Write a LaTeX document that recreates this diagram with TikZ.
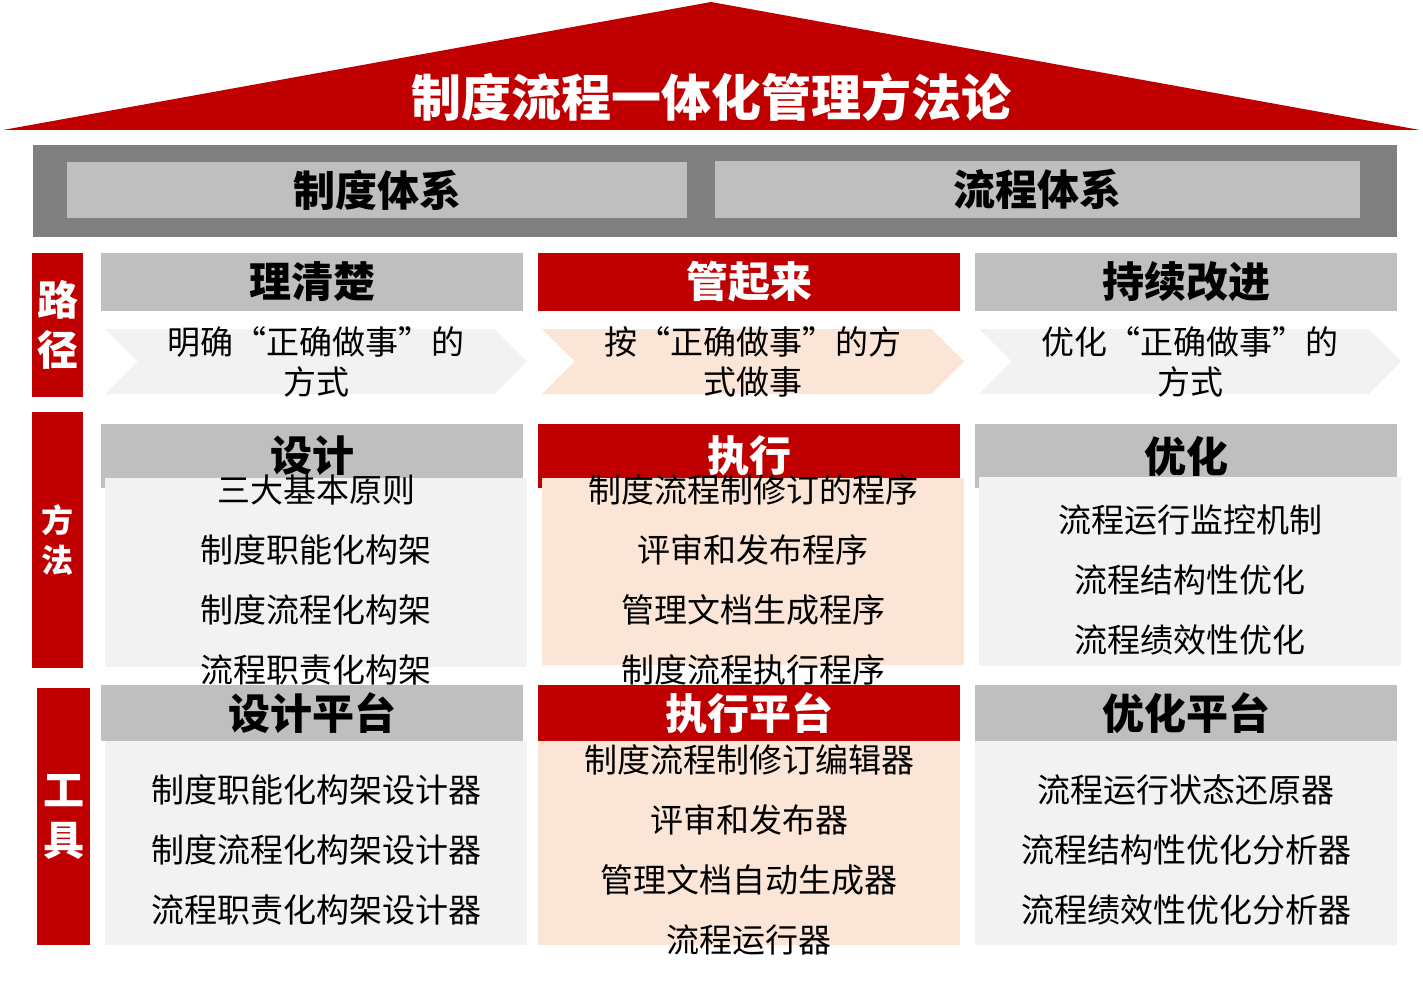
\documentclass[tikz,border=0pt]{standalone}
\usepackage{fontspec}
\setmainfont{Noto Sans CJK SC}
\usetikzlibrary{positioning,shapes.symbols}
\definecolor{roofred}{HTML}{C00000}
\definecolor{bandgray}{HTML}{808080}
\definecolor{capgray}{HTML}{BFBFBF}
\definecolor{panelgray}{HTML}{F2F2F2}
\definecolor{panelpeach}{HTML}{FBE5D6}

\begin{document}
\begin{tikzpicture}[x=1pt,y=-1pt,
  every node/.style={inner sep=0pt,outer sep=0pt},
  headbox/.style={minimum width=422,fill=capgray,font=\fontsize{42}{46}\selectfont\bfseries},
  redhead/.style={headbox,fill=roofred,text=white},
  panel/.style={minimum width=422,fill=panelgray},
  chev/.style={signal,signal to=east,signal from=west,signal pointer angle=90,
    minimum width=422,minimum height=65,fill=panelgray},
  side/.style={fill=roofred,text=white,minimum width=51,align=center,
    font=\fontsize{41}{50}\selectfont\bfseries},
  item/.style={font=\fontsize{33}{40}\selectfont,align=center}
]
  \useasboundingbox (0,0) rectangle (1423,981);

  % roof
  \fill[roofred] (3,130) -- (711,2) -- (1420,130) -- cycle;
  \node[text=white,font=\fontsize{50}{54}\selectfont\bfseries] (title) at (711,97) {制度流程一体化管理方法论};

  % two systems
  \node[fill=bandgray,minimum width=1364,minimum height=92] (band) at (715,191) {};
  \node[headbox,minimum width=620,minimum height=56] (rules) at (377,190) {制度体系};
  \node[headbox,minimum width=645,minimum height=57] (flows) at (1037.5,189.5) {流程体系};

  % side labels
  \node[side,minimum height=144] (path) at (57.5,325) {路\\径};
  \node[side,minimum height=256,font=\fontsize{32}{40}\selectfont\bfseries] (method) at (57.5,540) {方\\法};
  \node[side,minimum width=53,minimum height=257] (tool) at (63.5,816.5) {工\\具};

  % path row
  \node[headbox,minimum height=58] (clear) at (312,282) {理清楚};
  \node[redhead,minimum height=58] (manage) at (749,282) {管起来};
  \node[headbox,minimum height=58] (improve) at (1186,282) {持续改进};
  \node[chev] (way1) at (316,361.5) {};
  \node[chev,fill=panelpeach] (way2) at (753,361.5) {};
  \node[chev] (way3) at (1190,361.5) {};
  \node[item] at (way1) {明确“正确做事”的\\方式};
  \node[item] at (way2) {按“正确做事”的方\\式做事};
  \node[item] at (way3) {优化“正确做事”的\\方式};

  % method row
  \node[headbox,minimum height=64] (design) at (312,456) {};
  \node[redhead,minimum height=64] (execute) at (749,456) {};
  \node[headbox,minimum height=64] (optimize) at (1186,456) {};
  \node[panel,minimum height=189] (designbox) at (316,572.5) {};
  \node[panel,fill=panelpeach,minimum height=187] (executebox) at (753,571.5) {};
  \node[panel,minimum height=189] (optimizebox) at (1190,571.5) {};
  \node[font=\fontsize{42}{46}\selectfont\bfseries] at (design) {设计};
  \node[font=\fontsize{42}{46}\selectfont\bfseries,text=white] at (execute) {执行};
  \node[font=\fontsize{42}{46}\selectfont\bfseries] at (optimize) {优化};

  \node[item] (d1) at (316,490) {三大基本原则};
  \node[item] (d2) at (316,550) {制度职能化构架};
  \node[item] (d3) at (316,610) {制度流程化构架};
  \node[item] (d4) at (316,670) {流程职责化构架};
  \node[item] (e1) at (753,490) {制度流程制修订的程序};
  \node[item] (e2) at (753,550) {评审和发布程序};
  \node[item] (e3) at (753,610) {管理文档生成程序};
  \node[item] (e4) at (753,670) {制度流程执行程序};
  \node[item] (o1) at (1190,520) {流程运行监控机制};
  \node[item] (o2) at (1190,580) {流程结构性优化};
  \node[item] (o3) at (1190,640) {流程绩效性优化};

  % tool row
  \node[panel,minimum height=204] (designtool) at (316,843) {};
  \node[panel,fill=panelpeach,minimum height=204] (executetool) at (749,843) {};
  \node[panel,minimum height=204] (optimizetool) at (1186,843) {};
  \node[headbox,minimum height=56] (designpf) at (312,713) {设计平台};
  \node[redhead,minimum height=56] (executepf) at (749,713) {执行平台};
  \node[headbox,minimum height=56] (optimizepf) at (1186,713) {优化平台};

  \node[item] (dt1) at (316,790) {制度职能化构架设计器};
  \node[item] (dt2) at (316,850) {制度流程化构架设计器};
  \node[item] (dt3) at (316,910) {流程职责化构架设计器};
  \node[item] (et1) at (749,760) {制度流程制修订编辑器};
  \node[item] (et2) at (749,820) {评审和发布器};
  \node[item] (et3) at (749,880) {管理文档自动生成器};
  \node[item] (et4) at (749,940) {流程运行器};
  \node[item] (ot1) at (1186,790) {流程运行状态还原器};
  \node[item] (ot2) at (1186,850) {流程结构性优化分析器};
  \node[item] (ot3) at (1186,910) {流程绩效性优化分析器};
\end{tikzpicture}
\end{document}
